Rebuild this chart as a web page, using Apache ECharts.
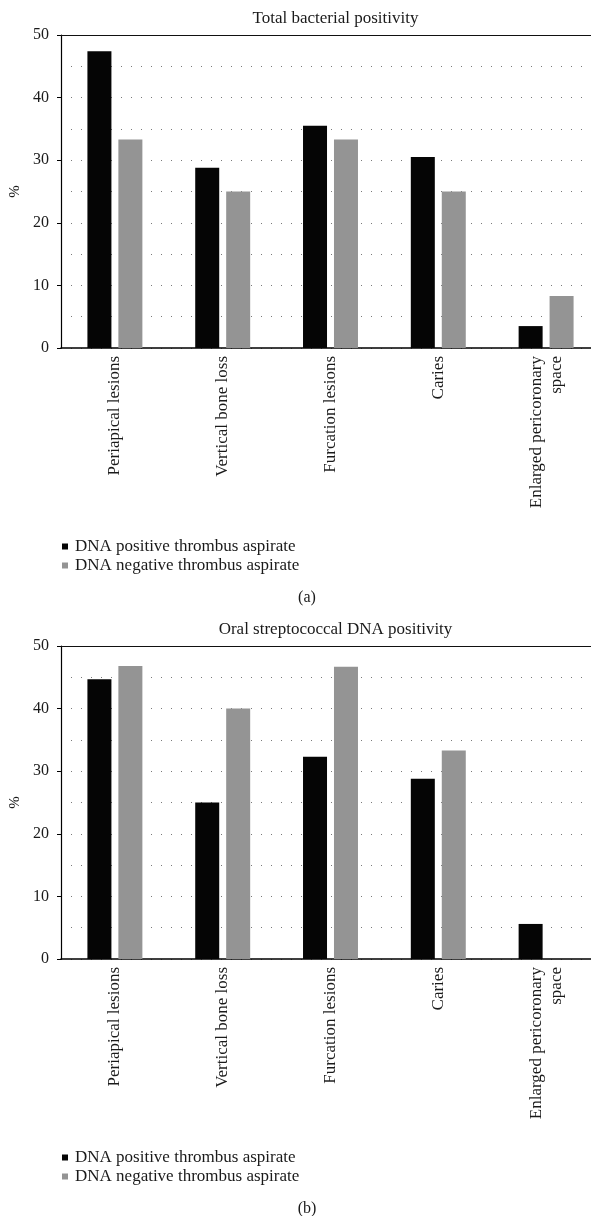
<!DOCTYPE html>
<html>
<head>
<meta charset="utf-8">
<script src="https://cdn.jsdelivr.net/npm/echarts@6/dist/echarts.min.js"></script>
<style>
html,body{margin:0;padding:0;background:#fff;}
#chart{width:591px;height:1216px;}
</style>
</head>
<body>
<div id="chart"></div>
<script>
const categories = ['Periapical lesions', 'Vertical bone loss', 'Furcation lesions', 'Caries', 'Enlarged pericoronary\nspace'];
const seriesNames = ['DNA positive thrombus aspirate', 'DNA negative thrombus aspirate'];
const titles = ['Total bacterial positivity', 'Oral streptococcal DNA positivity'];
const panelLabels = ['(a)', '(b)'];
const yTicks = [0, 10, 20, 30, 40, 50];
const totalPositive = [47.4, 28.8, 35.5, 30.5, 3.5];
const totalNegative = [33.3, 25.0, 33.3, 25.0, 8.3];
const streptoPositive = [44.7, 25.0, 32.3, 28.8, 5.6];
const streptoNegative = [46.8, 40.0, 46.7, 33.3, 0];

const FONT = 'Liberation Serif';
const BLACK = '#050505';
const GREY = '#949494';
const TXT = '#1a1a1a';
const panelOffset = 611;
const gridTop = 35;
const gridH = 313;

const chart = echarts.init(document.getElementById('chart'), null, {renderer: 'canvas'});

const grids = [], xAxes = [], yAxes = [], series = [], titleList = [], legends = [];
const data = [[totalPositive, totalNegative], [streptoPositive, streptoNegative]];

for (let p = 0; p < 2; p++) {
  const off = p * panelOffset;
  grids.push({left: 61, top: gridTop + off, width: 539, height: gridH, containLabel: false, outerBoundsMode: 'none'});
  // bottom category axis
  xAxes.push({
    type: 'category', gridIndex: p, data: categories, position: 'bottom',
    axisLine: {show: true, lineStyle: {color: '#000', width: 1.5}},
    axisTick: {show: false},
    axisLabel: {rotate: 90, margin: 8, fontFamily: FONT, fontSize: 17, color: TXT, lineHeight: 20, interval: 0},
    splitLine: {show: false}
  });
  // top border axis
  xAxes.push({
    type: 'category', gridIndex: p, data: categories, position: 'top',
    axisLine: {show: true, lineStyle: {color: '#111', width: 1.2}},
    axisTick: {show: false}, axisLabel: {show: false}, splitLine: {show: false}
  });
  yAxes.push({
    type: 'value', gridIndex: p, min: yTicks[0], max: yTicks[yTicks.length - 1], interval: yTicks[1] - yTicks[0],
    name: '%', nameLocation: 'middle', nameRotate: 90, nameGap: 33,
    nameTextStyle: {fontFamily: FONT, fontSize: 15, color: TXT},
    axisLine: {show: true, lineStyle: {color: '#000', width: 1.2}},
    axisTick: {show: true, inside: false, length: 4, lineStyle: {color: '#000'}},
    axisLabel: {margin: 12, fontFamily: FONT, fontSize: 16, color: TXT},
    splitLine: {show: true, lineStyle: {color: '#7a7a7a', width: 1, type: [1, 9]}},
    minorTick: {show: false, splitNumber: 2},
    minorSplitLine: {show: true, lineStyle: {color: '#7a7a7a', width: 1, type: [1, 9]}}
  });
  for (let s = 0; s < 2; s++) {
    series.push({
      type: 'bar', name: seriesNames[s], xAxisIndex: p * 2, yAxisIndex: p,
      data: data[p][s], barWidth: 24, barGap: '29%',
      itemStyle: {color: s === 0 ? BLACK : GREY},
      emphasis: {disabled: true}
    });
  }
  titleList.push({
    text: titles[p], left: 330.5, textAlign: 'center', top: 5 + off,
    textStyle: {fontFamily: FONT, fontSize: 17, fontWeight: 'normal', color: TXT}
  });
  titleList.push({
    text: panelLabels[p], left: 302, textAlign: 'center', top: 585 + off,
    textStyle: {fontFamily: FONT, fontSize: 16, fontWeight: 'normal', color: TXT}
  });
  legends.push({
    orient: 'vertical', left: 57, top: 533 + off, itemWidth: 6, itemHeight: 6, itemGap: 2,
    icon: 'rect', data: seriesNames, selectedMode: false,
    textStyle: {fontFamily: FONT, fontSize: 17, color: TXT, padding: [0, 0, 0, 2]}
  });
}

chart.setOption({
  animation: false,
  backgroundColor: '#fff',
  title: titleList,
  legend: legends,
  grid: grids,
  xAxis: xAxes,
  yAxis: yAxes,
  series: series
});
</script>
</body>
</html>
